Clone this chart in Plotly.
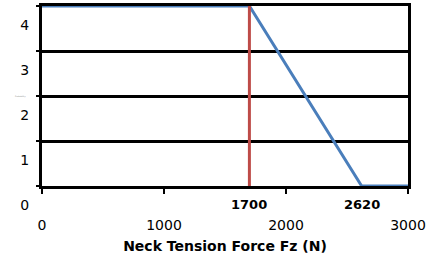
import plotly.graph_objects as go

# Data
blue_x = [0, 1700, 2620, 3000]
blue_y = [4, 4, 0, 0]
red_x = [1700, 1700]
red_y = [0, 4]
x_ticks = [0, 1000, 2000, 3000]
x_tick_labels = ["0", "1000", "2000", "3000"]
y_ticks = [0, 1, 2, 3, 4]
y_tick_labels = ["0", "1", "2", "3", "4"]
marker_values = [1700, 2620]
marker_labels = ["1700", "2620"]

FONT = "DejaVu Sans, Arial, sans-serif"

fig = go.Figure()
fig.add_trace(go.Scatter(x=blue_x, y=blue_y, mode="lines", cliponaxis=False,
                         line=dict(color="#4A7EBB", width=3), showlegend=False))
fig.add_trace(go.Scatter(x=red_x, y=red_y, mode="lines",
                         line=dict(color="#BE4B48", width=3), showlegend=False))

for v, t in zip(marker_values, marker_labels):
    fig.add_annotation(x=v, y=0, xref="x", yref="y", text="<b>" + t + "</b>",
                       showarrow=False, yshift=-18,
                       font=dict(family=FONT, size=13, color="black"))

fig.add_annotation(x=0, y=0.5, xref="paper", yref="paper", xshift=-29,
                   text="Probability", showarrow=False,
                   font=dict(family=FONT, size=2, color="#888888"))

fig.update_layout(
    width=433, height=260,
    margin=dict(l=42, r=25, t=6, b=74),
    paper_bgcolor="white", plot_bgcolor="white",
    font=dict(family=FONT, size=14, color="black"),
    xaxis=dict(range=[0, 3000], tickvals=x_ticks, ticktext=x_tick_labels,
               showgrid=False, zeroline=False, automargin=False,
               layer="below traces",
               showline=True, linecolor="black", linewidth=3, mirror=True,
               ticks="outside", ticklen=5, tickwidth=2, tickcolor="black",
               ticklabelstandoff=19,
               title=dict(text="<b>Neck Tension Force Fz (N)</b>",
                          font=dict(family=FONT, size=14), standoff=10)),
    yaxis=dict(range=[0, 4], tickvals=y_ticks, ticktext=y_tick_labels,
               showgrid=True, gridcolor="black", gridwidth=3, zeroline=False,
               automargin=False, layer="below traces",
               showline=True, linecolor="black", linewidth=3, mirror=True,
               ticks="outside", ticklen=3, tickwidth=2, tickcolor="black",
               ticklabelshift=19, ticklabelstandoff=4),
)

fig.write_html("out.html", config={"displayModeBar": False},
               post_script="document.body.style.margin='0';")
